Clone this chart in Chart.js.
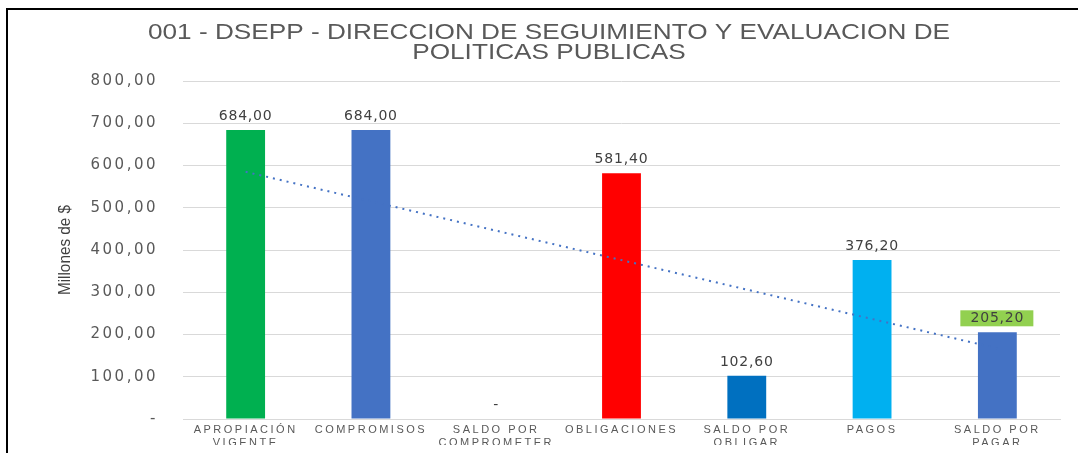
<!DOCTYPE html>
<html>
<head>
<meta charset="utf-8">
<script src="https://cdn.jsdelivr.net/npm/chart.js@4.4.1/dist/chart.umd.min.js"></script>
<style>
  html, body { margin: 0; padding: 0; background: #fff; }
  #wrap { position: relative; width: 1078px; height: 453px; }
  #frame { position: absolute; left: 6px; top: 8px; width: 1072px; height: 445px;
           border-left: 2px solid #000; border-top: 2px solid #000; box-sizing: border-box; pointer-events: none; }
</style>
</head>
<body>
<div id="wrap">
  <canvas id="chart" width="1078" height="453"></canvas>
  <div id="frame"></div>
</div>
<script>
// chart data
const titleLines = ['001 - DSEPP - DIRECCION DE SEGUIMIENTO Y EVALUACION DE', 'POLITICAS PUBLICAS'];
const yTitle = 'Millones de $';
const categories = [
    ['APROPIACIÓN', 'VIGENTE'],
    'COMPROMISOS',
    ['SALDO POR', 'COMPROMETER'],
    'OBLIGACIONES',
    ['SALDO POR', 'OBLIGAR'],
    'PAGOS',
    ['SALDO POR', 'PAGAR']
];
const values = [684.0, 684.0, 0, 581.4, 102.6, 376.2, 205.2];
const barColors = ['#00B050', '#4472C4', '#4472C4', '#FF0000', '#0070C0', '#00B0F0', '#4472C4'];
// trendline end points
const trendValues = [585, null, null, null, null, null, 167];
const yTicks = [0, 100, 200, 300, 400, 500, 600, 700, 800];

const fmt = v => v === 0 ? '-' : v.toFixed(2).replace('.', ',');

// the original picture is stretched sideways, mimic it with letter spacing
const spacingPlugin = {
    id: 'spacing',
    beforeDraw(chart) { chart.ctx.letterSpacing = '2.5px'; },
    beforeDatasetsDraw(chart) { chart.ctx.letterSpacing = '0px'; }
};

// chart title + axis title
const titlePlugin = {
    id: 'titleText',
    afterDraw(chart) {
        const ctx = chart.ctx;
        ctx.save();
        ctx.letterSpacing = '0px';
        ctx.fillStyle = '#595959';
        ctx.font = '22px "Liberation Sans", Arial, sans-serif';
        ctx.textAlign = 'center';
        ctx.textBaseline = 'middle';
        titleLines.forEach((t, i) => {
            ctx.save();
            ctx.translate(549, 33 + i * 20);
            ctx.scale(1.19, 1);
            ctx.fillText(t, 0, 0);
            ctx.restore();
        });

        const area = chart.chartArea;
        ctx.fillStyle = '#404040';
        ctx.font = '17px "Liberation Sans", Arial, sans-serif';
        ctx.translate(65, (area.top + area.bottom) / 2);
        ctx.rotate(-Math.PI / 2);
        ctx.scale(0.9, 1);
        ctx.fillText(yTitle, 0, 0);
        ctx.restore();
    }
};

// value labels above the bars
const labelPlugin = {
    id: 'valueLabels',
    afterDatasetsDraw(chart) {
        const ctx = chart.ctx;
        const meta = chart.getDatasetMeta(1);
        ctx.save();
        ctx.letterSpacing = '0.8px';
        ctx.font = '14px "DejaVu Sans", Verdana, sans-serif';
        ctx.textAlign = 'center';
        ctx.textBaseline = 'middle';
        meta.data.forEach((bar, i) => {
            const txt = fmt(values[i]);
            const y = bar.y - 13.5;
            if (i === values.length - 1) {
                ctx.fillStyle = '#92D050';
                ctx.fillRect(bar.x - 37, y - 8.5, 73, 16);
            }
            ctx.fillStyle = '#404040';
            ctx.fillText(txt, bar.x, y);
        });
        ctx.restore();
        // x labels are drawn after this, slightly spaced
        ctx.letterSpacing = '1.1px';
    }
};

new Chart(document.getElementById('chart'), {
    type: 'bar',
    data: {
        labels: categories,
        datasets: [
            {
                type: 'line',
                label: 'Tendencia',
                data: trendValues,
                spanGaps: true,
                borderColor: '#4472C4',
                borderWidth: 2,
                borderDash: [2, 5],
                pointRadius: 0,
                fill: false,
                order: 0
            },
            {
                label: 'Valores',
                data: values,
                backgroundColor: barColors,
                barPercentage: 0.31,
                categoryPercentage: 1,
                order: 1
            }
        ]
    },
    options: {
        responsive: false,
        animation: false,
        layout: { padding: { top: 81, right: 18, bottom: 0, left: 0 } },
        plugins: {
            legend: { display: false },
            tooltip: { enabled: false },
            title: { display: false }
        },
        scales: {
            x: {
                z: 1,
                grid: { display: false, drawTicks: false, tickLength: 0 },
                border: { color: '#D9D9D9' },
                ticks: {
                    color: '#595959',
                    font: { size: 11, family: '"Liberation Sans", Arial, sans-serif', lineHeight: 1.15 },
                    padding: 5,
                    maxRotation: 0,
                    autoSkip: false
                },
                afterFit(scale) { scale.height = 26; }
            },
            y: {
                min: 0,
                max: 800,
                afterBuildTicks(scale) { scale.ticks = yTicks.map(v => ({ value: v })); },
                grid: { color: '#D9D9D9', drawTicks: false },
                border: { display: false },
                ticks: {
                    color: '#595959',
                    font: { size: 15, family: '"DejaVu Sans", Verdana, sans-serif' },
                    padding: 25,
                    callback: v => fmt(v)
                },
                afterFit(scale) { scale.width = 183; }
            }
        }
    },
    plugins: [spacingPlugin, titlePlugin, labelPlugin]
});
</script>
</body>
</html>
